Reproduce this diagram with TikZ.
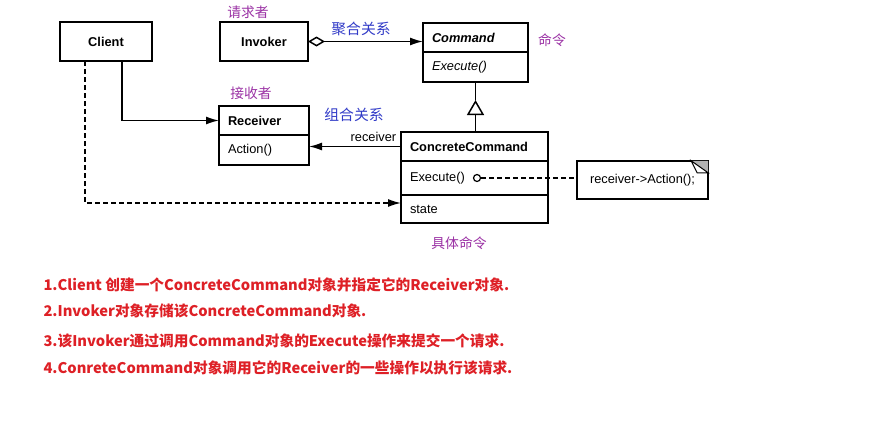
\documentclass[tikz,border=0pt]{standalone}
\usepackage{fontspec}
\setmainfont{Liberation Sans}
\newfontfamily\cjk{Noto Sans CJK SC}
\usetikzlibrary{arrows.meta, calc, positioning}

\definecolor{rolepurple}{RGB}{155,50,165}
\definecolor{relblue}{RGB}{50,60,200}
\definecolor{descred}{RGB}{222,32,38}
\newcommand\umlfont{\fontsize{12.8}{15}\selectfont}

\begin{document}
\begin{tikzpicture}[x=1pt,y=-1pt,>=Latex,
   cls/.style={draw,line width=1.5pt,outer sep=0pt,inner sep=0pt,font=\umlfont\bfseries},
   part/.style={cls,inner xsep=9pt,align=left},
   link/.style={line width=1.5pt},
   tip/.style={-{Latex[length=13pt,width=8pt]}},
   mydash/.style={dash pattern=on 4.5pt off 3.5pt},
   role/.style={text=rolepurple,font=\cjk\fontsize{13.8}{16}\selectfont},
   rel/.style={text=relblue,font=\cjk\fontsize{14.8}{17}\selectfont},
   desc/.style={anchor=west,text=descred,font=\cjk\bfseries\fontsize{14.7}{18}\selectfont}]
  % page
  \fill[white] (0,0) rectangle (873,431);
  \useasboundingbox (0,0) rectangle (873,431);
  % classes
  \node[cls,minimum width=92pt,minimum height=39pt] (client) at (106,41.5) {Client};
  \node[cls,minimum width=88pt,minimum height=39pt] (inv) at (264,41.5) {Invoker};
  \node[part,text width=87pt,minimum height=29pt,font=\umlfont\bfseries\itshape] (cmd) at (475.5,37.5) {Command};
  \node[part,text width=87pt,minimum height=30pt,below=0pt of cmd,font=\umlfont\itshape] (cmdexec) {Execute()};
  \node[part,text width=72pt,minimum height=29pt] (rcv) at (264,120.5) {Receiver};
  \node[part,text width=72pt,minimum height=30pt,below=0pt of rcv,font=\umlfont] (rcvact) {Action()};
  \node[part,text width=129pt,minimum height=29pt] (cc) at (474.5,146.5) {ConcreteCommand};
  \node[part,text width=129pt,minimum height=34pt,below=0pt of cc,font=\umlfont] (ccexec) {Execute()};
  \node[part,text width=129pt,minimum height=28pt,below=0pt of ccexec,font=\umlfont] (ccstate) {state};
  % note with folded corner
  \node[minimum width=131pt,minimum height=38pt,inner sep=0pt,font=\umlfont] (note) at (642.5,180) {receiver->Action();};
  \draw[link] (note.north west) -- (note.north east) -- (note.south east) -- (note.south west) -- cycle;
  \fill[gray!60] ($(note.north east)+(-17,0)$) -- (note.north east) -- ($(note.north east)+(0,12)$) -- cycle;
  \draw[line width=1pt,fill=white] ($(note.north east)+(-17,0)$) -- ($(note.north east)+(-11,12)$) -- ($(note.north east)+(0,12)$) -- cycle;
  % labels
  \node[role] (l_inv) at (248,12) {请求者};
  \node[role] (l_rcv) at (251,93) {接收者};
  \node[role] (l_cmd) at (552,40) {命令};
  \node[role] (l_cc) at (459,243) {具体命令};
  \node[rel] (l_agg) at (361,29) {聚合关系};
  \node[rel] (l_comp) at (354,115) {组合关系};
  % aggregation
  \draw[link,{Diamond[open,length=17pt,width=10pt]}-{Latex[length=13pt,width=8pt]}] (inv.east) -- (inv.east -| cmd.west);
  % generalization
  \coordinate (apex) at ($(cmdexec.south)+(0,18)$);
  \draw[link] (cmdexec.south) -- (apex);
  \draw[link,-{Triangle[open,length=15pt,width=17pt]}] (apex |- cc.north) -- (apex);
  % receiver reference
  \draw[link,tip] (cc.west) -- (cc.west -| rcvact.east) node[pos=0.3,above=1pt,font=\umlfont] (l_ref) {receiver};
  % client links
  \draw[link,tip] ($(client.south)+(16,0)$) |- (rcv.west);
  \draw[link,mydash,tip] ($(client.south)+(-21,0)$) |- ($(ccstate.west)+(0,-6)$);
  % execute -> note
  \node[circle,draw,line width=1.2pt,fill=white,inner sep=0pt,minimum size=7pt] (dot) at ($(ccexec.west)+(76,0)$) {};
  \draw[link,mydash] (dot) -- (dot -| note.west);
  % steps
  \node[desc] (d1) at (40,285) {1.Client 创建一个ConcreteCommand对象并指定它的Receiver对象.};
  \node[desc] (d2) at (40,311) {2.Invoker对象存储该ConcreteCommand对象.};
  \node[desc] (d3) at (40,341) {3.该Invoker通过调用Command对象的Execute操作来提交一个请求.};
  \node[desc] (d4) at (40,368) {4.ConreteCommand对象调用它的Receiver的一些操作以执行该请求.};
\end{tikzpicture}
\end{document}
